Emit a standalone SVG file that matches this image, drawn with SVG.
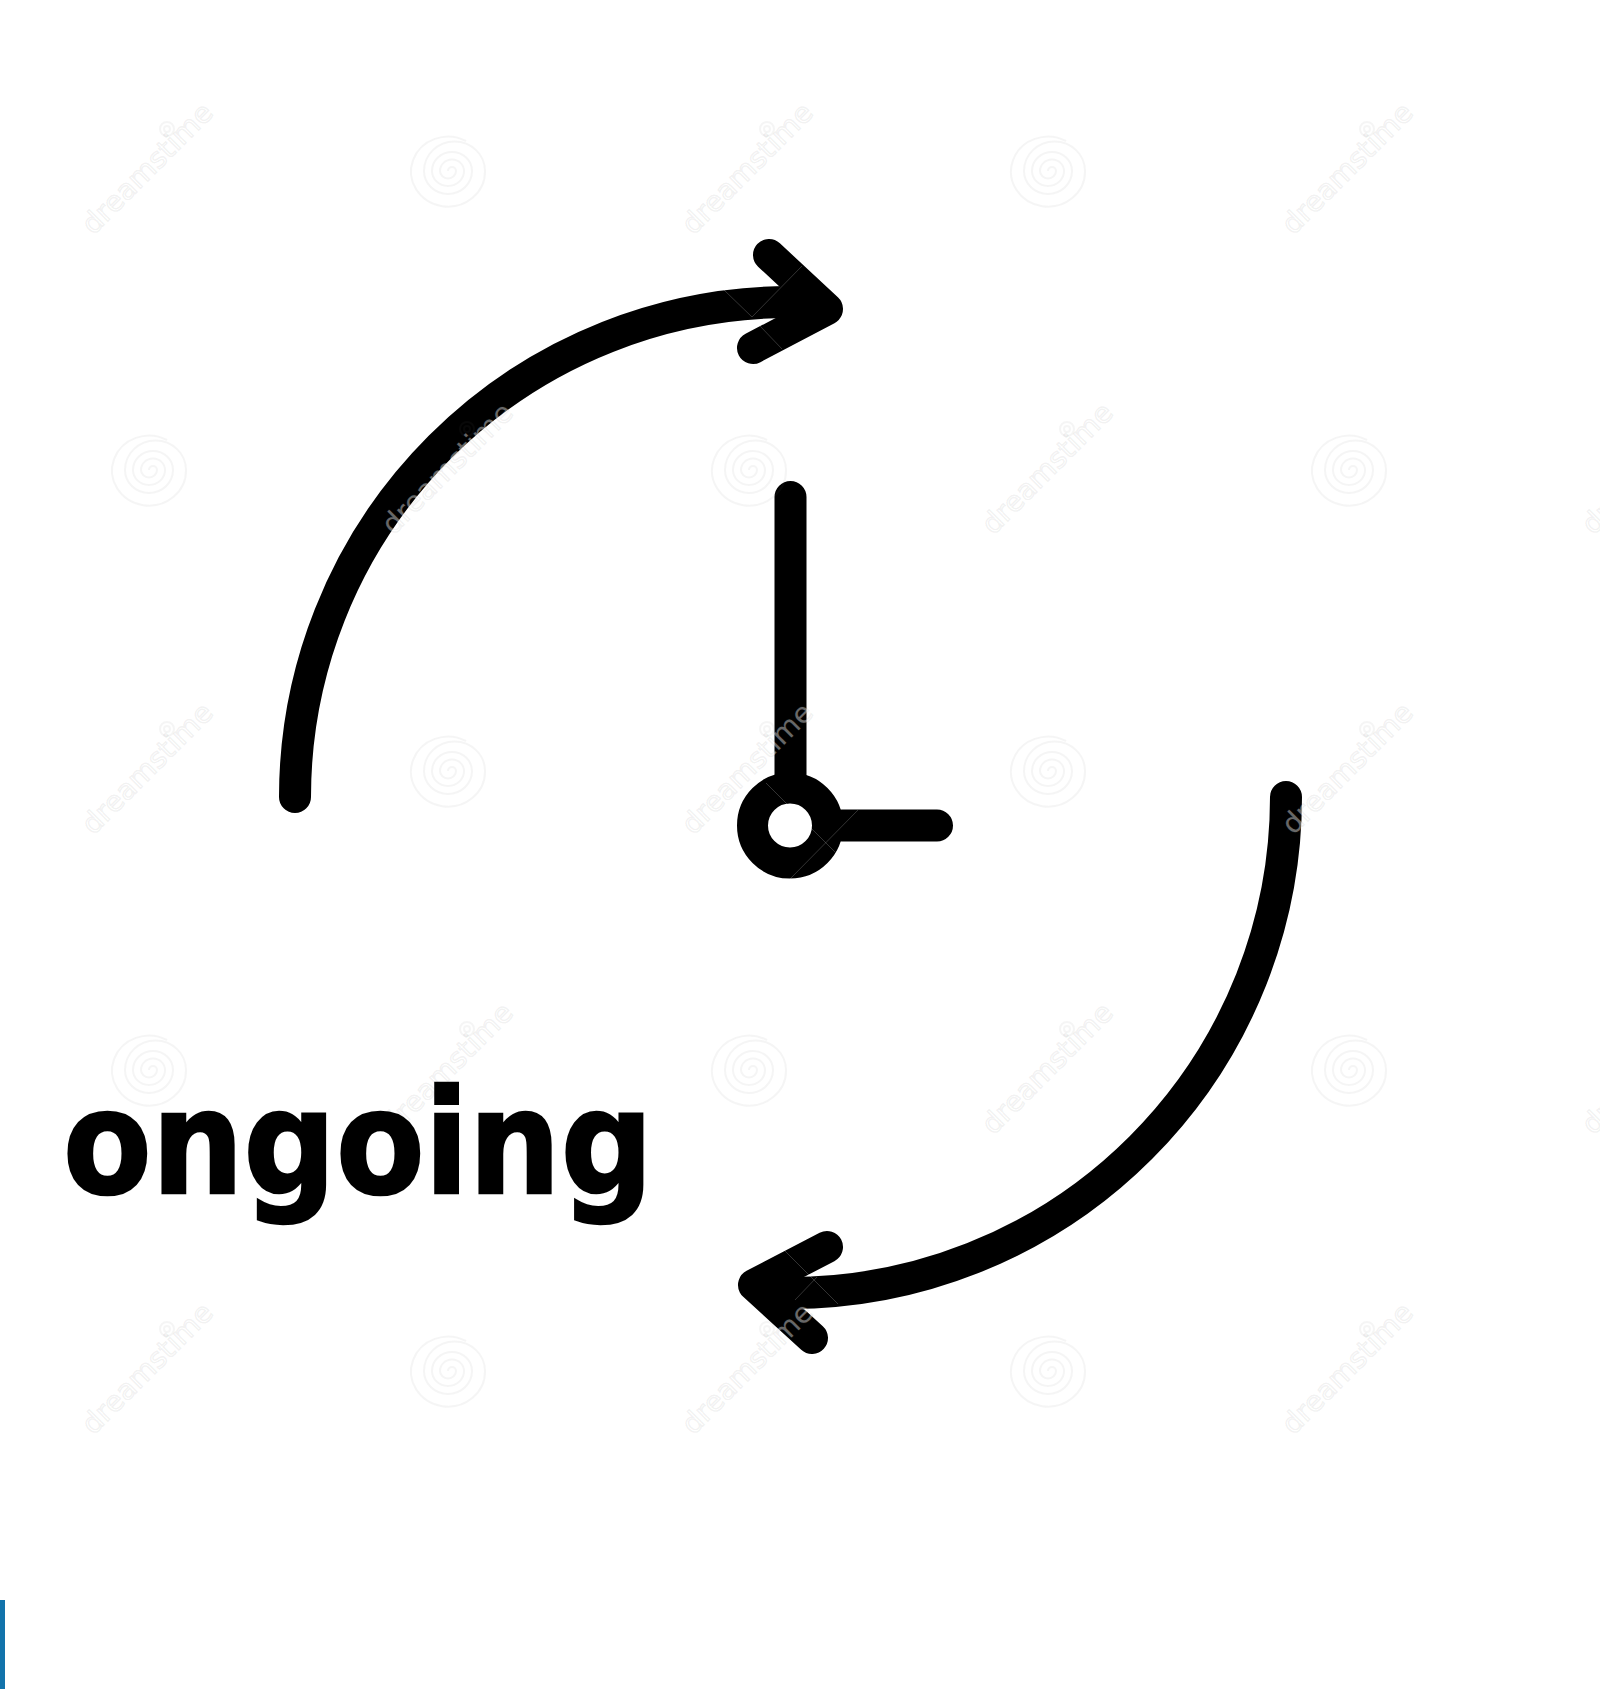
<svg xmlns="http://www.w3.org/2000/svg" width="1600" height="1689" viewBox="0 0 1600 1689">
<style>
.ink{fill:none;stroke:#000;stroke-width:32;stroke-linecap:round;stroke-linejoin:round}
.mark{font-family:"DejaVu Sans",sans-serif;font-size:28px;fill:#fff;fill-opacity:.42;stroke:#777;stroke-opacity:.1;stroke-width:1.4}
.spiral{fill:none;stroke:#777;stroke-opacity:.07;stroke-width:2}
.seam{stroke:#fff;stroke-opacity:.2;stroke-width:1;fill:none}
</style>
<defs>
<g id="wm">
<text class="mark" transform="rotate(-45)" x="0" y="0" text-anchor="middle" textLength="172" lengthAdjust="spacingAndGlyphs">dreamstime</text>
<circle cx="13" cy="-46" r="7" class="spiral"/>
<circle cx="13" cy="-46" r="3" class="spiral"/>
</g>
<g id="sp">
<path class="spiral" d="M0 0A4 4 0 0 1 8 0A8 7.500 0 0 1 -8 0A12 11.500 0 0 1 16 0A16 15 0 0 1 -16 0A20 19 0 0 1 24 0A24 23 0 0 1 -24 0A30 29 0 0 1 37 0A37 35 0 1 1 18 -30"/>
</g>
</defs>
<rect width="1600" height="1689" fill="#fff"/>
<rect id="edge-bar" x="0" y="1600" width="5" height="89" fill="#1273ab"/>
<g id="connectors">
<path id="arrow-top" class="ink" d="M295 797A495 495 0 0 1 790 302L808 303"/>
<path id="arrow-top-head" class="ink" d="M769 255L827 309L753 348"/>
<path id="arrow-bottom" class="ink" d="M1286 797A496 496 0 0 1 790 1293L772 1292"/>
<path id="arrow-bottom-head" class="ink" d="M827 1247L754 1285L812 1338"/>
</g>
<g id="clock">
<circle cx="790" cy="825.500" r="37.500" fill="none" stroke="#000" stroke-width="31"/>
<path class="ink" d="M790.500 497V775M842 825.500H937"/>
</g>
<g id="seams">
<path class="seam" d="M724 290L752 317L802 266M760 326L782 349M766 783L835 852M790 879L858 810M785 1251L838 1304M817 1277L795 1300"/>
</g>
<g id="watermark">
<use href="#wm" x="154" y="175"/><use href="#wm" x="754" y="175"/><use href="#wm" x="1354" y="175"/>
<use href="#wm" x="454" y="475"/><use href="#wm" x="1054" y="475"/><use href="#wm" x="1654" y="475"/>
<use href="#wm" x="154" y="775"/><use href="#wm" x="754" y="775"/><use href="#wm" x="1354" y="775"/>
<use href="#wm" x="454" y="1075"/><use href="#wm" x="1054" y="1075"/><use href="#wm" x="1654" y="1075"/>
<use href="#wm" x="154" y="1375"/><use href="#wm" x="754" y="1375"/><use href="#wm" x="1354" y="1375"/>
<use href="#sp" x="448" y="171"/><use href="#sp" x="1048" y="171"/>
<use href="#sp" x="149" y="470"/><use href="#sp" x="749" y="470"/><use href="#sp" x="1349" y="470"/>
<use href="#sp" x="448" y="771"/><use href="#sp" x="1048" y="771"/>
<use href="#sp" x="149" y="1070"/><use href="#sp" x="749" y="1070"/><use href="#sp" x="1349" y="1070"/>
<use href="#sp" x="448" y="1371"/><use href="#sp" x="1048" y="1371"/>
</g>
<g id="label">
<text x="63" y="1193" font-family="'DejaVu Sans',sans-serif" font-weight="700" font-size="145" textLength="590" lengthAdjust="spacingAndGlyphs" fill="#000" stroke="#000" stroke-width="2.500">ongoing</text>
</g>
</svg>
